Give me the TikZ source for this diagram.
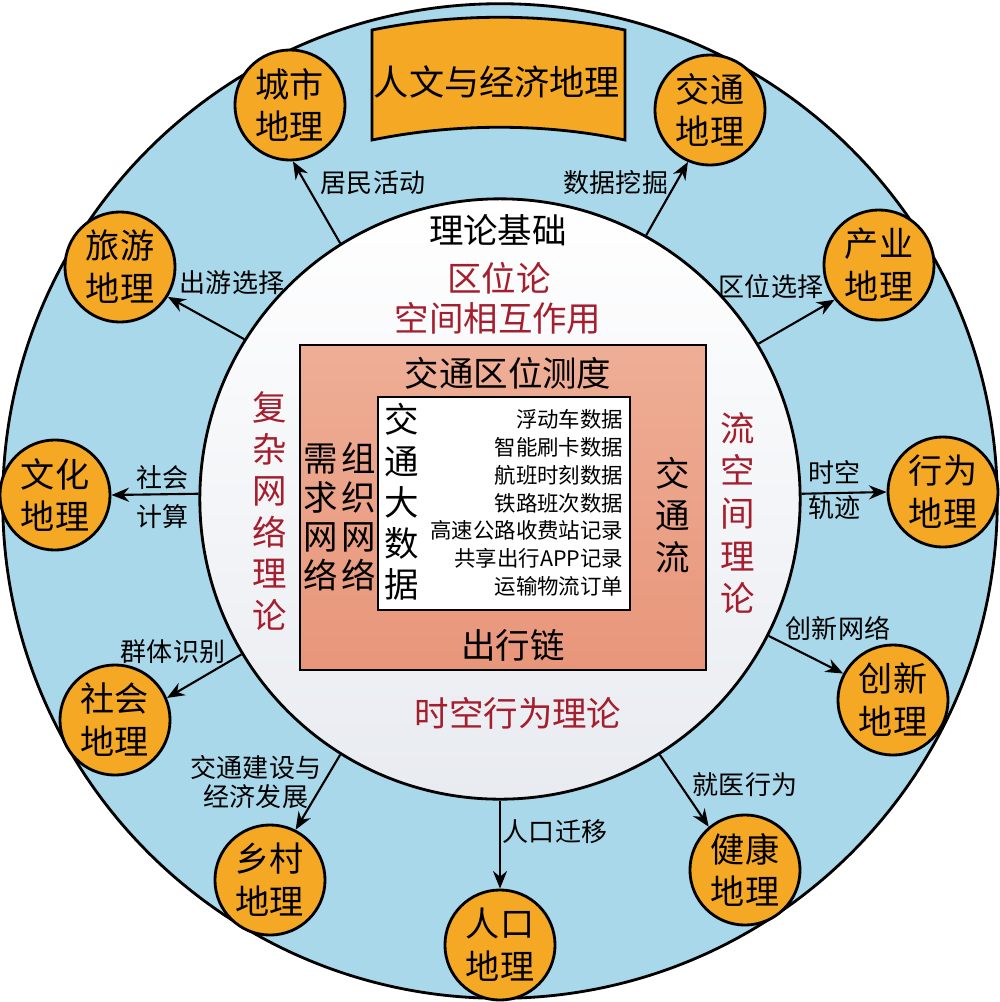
\documentclass[tikz,border=0pt]{standalone}
\usepackage{fontspec}
\setmainfont{Noto Sans CJK SC}
\usetikzlibrary{positioning, calc, arrows.meta}
\tikzset{>={Stealth[length=5pt,width=4pt]}}
\definecolor{ringblue}{RGB}{168,216,234}
\definecolor{geoorange}{RGB}{245,168,35}
\definecolor{theoryred}{RGB}{165,30,45}
\definecolor{boxtop}{RGB}{238,174,150}
\definecolor{boxbottom}{RGB}{232,150,122}
\definecolor{innergray}{RGB}{232,235,240}
\tikzset{
  geo/.style={circle, draw, line width=0.8pt, fill=geoorange, minimum size=1.1cm, inner sep=0pt, align=center, font=\fontsize{9.7}{12.2}\selectfont},
  flow/.style={->, line width=0.6pt},
  lbl/.style={font=\fontsize{7.4}{9}\selectfont, inner sep=0pt, align=center},
  theory/.style={text=theoryred, font=\fontsize{9.8}{11.8}\selectfont, align=center, inner sep=0pt},
  plain/.style={font=\fontsize{9.8}{11.8}\selectfont, align=center, inner sep=0pt},
}

\begin{document}
\begin{tikzpicture}[x=0.01cm, y=-0.01cm]
  \useasboundingbox (0,0) rectangle (1000,1002);

  % rings
  \node[circle, draw, line width=0.8pt, fill=ringblue, minimum size=9.94cm] (ring) at (500,501) {};
  \node[circle, draw, line width=0.8pt, top color=white, bottom color=innergray, minimum size=6cm] (inner) at (500,499) {};

  % title banner
  \draw[fill=geoorange, line width=0.8pt] (372,30) .. controls (455,13) and (545,13) .. (625,30)
    -- (625,140) .. controls (545,123) and (455,123) .. (372,140) -- cycle;
  \node[font=\fontsize{10}{12}\selectfont, inner sep=0pt] (title) at (497,82) {人文与经济地理};

  % geographies
  \node[geo] (city) at (290,105) {城市\\地理};
  \node[geo] (tour) at (120,267) {旅游\\地理};
  \node[geo] (culture) at (55,495) {文化\\地理};
  \node[geo] (social) at (115,720) {社会\\地理};
  \node[geo] (rural) at (270,880) {乡村\\地理};
  \node[geo] (pop) at (500,945) {人口\\地理};
  \node[geo] (health) at (745,870) {健康\\地理};
  \node[geo] (innov) at (893,700) {创新\\地理};
  \node[geo] (behav) at (943,492) {行为\\地理};
  \node[geo] (industry) at (879,265) {产业\\地理};
  \node[geo] (traffic) at (710,110) {交通\\地理};

  % arrows out of the theory circle
  \draw[flow] (inner.122) -- (city.273);
  \draw[flow] (inner.148) -- (tour.328);
  \draw[flow] (inner.179) -- (culture.east);
  \draw[flow] (inner.211) -- (social.23);
  \draw[flow] (inner.238) -- (rural.63);
  \draw[flow] (inner.south) -- (pop.north);
  \draw[flow] (inner.302) -- (health.130);
  \draw[flow] (inner.333) -- (innov.152);
  \draw[flow] (inner.1) -- (behav.west);
  \draw[flow] (inner.31) -- (industry.218);
  \draw[flow] (inner.61) -- (traffic.247);

  % arrow labels
  \node[lbl] (l-city) at (373,183) {居民活动};
  \node[lbl] (l-tour) at (232,283) {出游选择};
  \node[lbl, font=\fontsize{7.4}{11}\selectfont] (l-culture) at (163,497) {社会\\计算};
  \node[lbl] (l-social) at (173,652) {群体识别};
  \node[lbl, font=\fontsize{7.4}{8.5}\selectfont] (l-rural) at (256,782) {交通建设与\\经济发展};
  \node[lbl] (l-pop) at (555,832) {人口迁移};
  \node[lbl] (l-health) at (745,785) {就医行为};
  \node[lbl] (l-innov) at (838,628) {创新网络};
  \node[lbl, font=\fontsize{7.4}{10}\selectfont] (l-behav) at (835,490) {时空\\轨迹};
  \node[lbl] (l-industry) at (771,287) {区位选择};
  \node[lbl] (l-traffic) at (616,183) {数据挖掘};

  % theories
  \node[plain] (base) at (498,230) {理论基础};
  \node[theory] (location) at (499,278) {区位论};
  \node[theory] (interact) at (498,318) {空间相互作用};
  \node[theory] (stbehav) at (518,713) {时空行为理论};
  \node[theory, font=\fontsize{9.8}{11.8}\selectfont] (complex) at (270,511) {复\\杂\\网\\络\\理\\论};
  \node[theory, font=\fontsize{9.8}{12.1}\selectfont] (flowspace) at (738,513) {流\\空\\间\\理\\论};

  % measurement box
  \node[draw, line width=0.6pt, top color=boxtop, bottom color=boxbottom, minimum width=4.06cm, minimum height=3.25cm] (measure) at (503,507.5) {};
  \node[draw, line width=0.6pt, fill=white, minimum width=2.52cm, minimum height=2.13cm] (bigdata) at (504,503.5) {};
  \node[plain] (m-title) at (508,373) {交通区位测度};
  \node[plain] (chain) at (513,645) {出行链};
  \node[plain, font=\fontsize{9.8}{11.1}\selectfont] (demand) at (321,517) {需\\求\\网\\络};
  \node[plain, font=\fontsize{9.8}{11.1}\selectfont] (organ) at (359,517) {组\\织\\网\\络};
  \node[plain, font=\fontsize{9.8}{11.7}\selectfont] (bd-title) at (402,502) {交\\通\\大\\数\\据};
  \node[plain, font=\fontsize{9.8}{11.9}\selectfont] (tflow) at (673,515) {交\\通\\流};
  \node[inner sep=0pt, align=right, anchor=east, font=\fontsize{6.1}{7.9}\selectfont] (sources) at (624,503) {浮动车数据\\智能刷卡数据\\航班时刻数据\\铁路班次数据\\高速公路收费站记录\\共享出行APP记录\\运输物流订单};
\end{tikzpicture}
\end{document}
